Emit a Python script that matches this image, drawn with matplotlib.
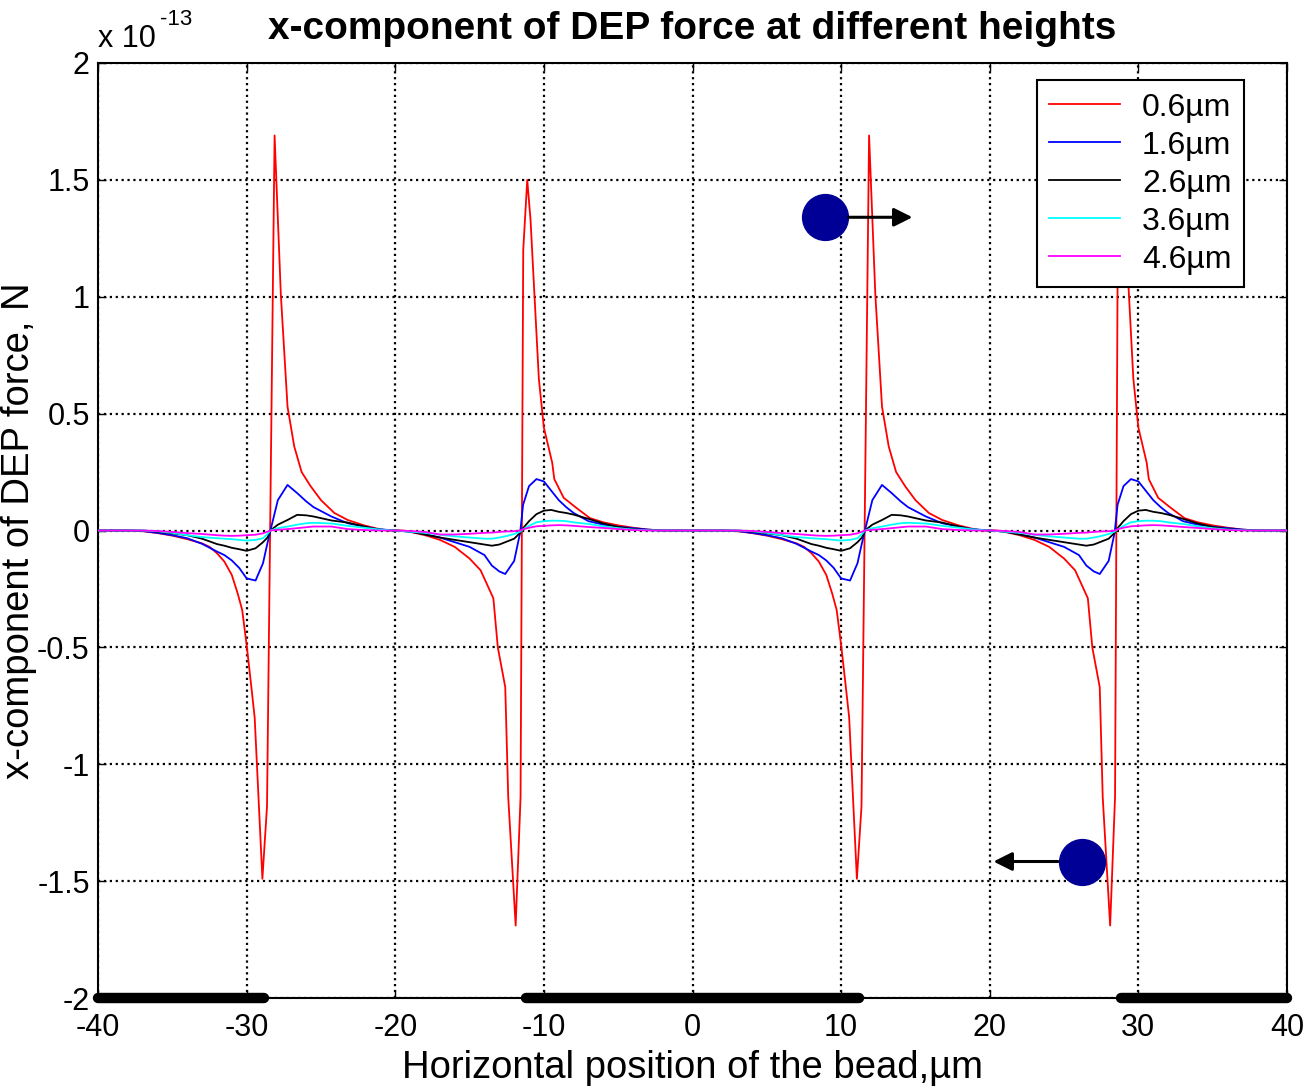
import numpy as np
import matplotlib
matplotlib.use("Agg")
import matplotlib.pyplot as plt

plt.rcParams['font.family'] = ['Liberation Sans', 'DejaVu Sans']
plt.rcParams['mathtext.default'] = 'regular'
plt.rcParams['axes.unicode_minus'] = False

# ---- datos (fuerza en unidades de 1e-13 N) ----
x_rojo = [-40, -38, -37, -36, -35, -34, -33, -32.5, -32, -31.5,
          -31, -30.6, -30.3, -30.0, -29.7, -29.46, -28.94, -28.63, -28.12, -27.7,
          -27.25, -26.8, -26.3, -25.7, -25.0, -24.1, -23.2, -22.1, -21.2, -20.5,
          -19.5, -19, -18, -17, -16, -15, -14.26, -13.9, -13.4, -13.1,
          -12.6, -12.4, -11.9, -11.57, -11.39, -11.12, -10.9, -10.34, -10.0, -9.44,
          -9.3, -8.67, -7.8, -6.9, -6, -5, -4, -3, -2, 0,
          2, 3, 4, 5, 6, 7, 7.5, 8, 8.5,
          9, 9.4, 9.7, 10.0, 10.3, 10.54, 11.06, 11.37, 11.88, 12.3,
          12.75, 13.2, 13.7, 14.3, 15.0, 15.9, 16.8, 17.9, 18.8, 19.5,
          20.5, 21, 22, 23, 24, 25, 25.74, 26.1, 26.6, 26.9,
          27.4, 27.6, 28.1, 28.43, 28.61, 28.88, 29.1, 29.66, 30.0, 30.56,
          30.7, 31.33, 32.2, 33.1, 34, 35, 36, 37, 38, 40]
f_06 = [0, 0, -0.003, -0.011, -0.022, -0.037, -0.055, -0.07, -0.097, -0.133,
        -0.19, -0.27, -0.34, -0.49, -0.66, -0.80, -1.49, -1.18, 1.69, 1.01,
        0.53, 0.36, 0.25, 0.19, 0.13, 0.075, 0.045, 0.022, 0.008, 0,
        0, -0.006, -0.02, -0.04, -0.07, -0.12, -0.17, -0.22, -0.29, -0.50,
        -0.67, -1.14, -1.69, -1.14, 1.20, 1.50, 1.33, 0.65, 0.44, 0.29,
        0.22, 0.14, 0.096, 0.053, 0.035, 0.022, 0.012, 0.004, 0, 0,
        0, -0.003, -0.011, -0.022, -0.037, -0.055, -0.07, -0.097, -0.133,
        -0.19, -0.27, -0.34, -0.49, -0.66, -0.80, -1.49, -1.18, 1.69, 1.01,
        0.53, 0.36, 0.25, 0.19, 0.13, 0.075, 0.045, 0.022, 0.008, 0,
        0, -0.006, -0.02, -0.04, -0.07, -0.12, -0.17, -0.22, -0.29, -0.50,
        -0.67, -1.14, -1.69, -1.14, 1.20, 1.50, 1.33, 0.65, 0.44, 0.29,
        0.22, 0.14, 0.096, 0.053, 0.035, 0.022, 0.012, 0.004, 0, 0]

x_pos = [-40, -38, -37, -36, -35, -34, -33, -32, -31.5, -31,
         -30.5, -30, -29.4, -28.9, -28.6, -28.4, -27.9, -27.25, -26.6, -26,
         -25.5, -24.3, -23.2, -22.1, -21.2, -20,
         -19, -18, -17, -16, -15, -14, -13.5, -13, -12.6, -12,
         -11.6, -11.4, -11, -10.5, -10, -9.5, -9, -8.5, -8, -7,
         -6, -5, -4, -3, -2, 0,
         2, 3, 4, 5, 6, 7, 8, 8.5, 9,
         9.5, 10, 10.6, 11.1, 11.4, 11.6, 12.1, 12.75, 13.4, 14,
         14.5, 15.7, 16.8, 17.9, 18.8, 20,
         21, 22, 23, 24, 25, 26, 26.5, 27, 27.4, 28,
         28.4, 28.6, 29, 29.5, 30, 30.5, 31, 31.5, 32, 33,
         34, 35, 36, 37, 38, 40]
f_16 = [0, 0, -0.002, -0.01, -0.02, -0.033, -0.057, -0.09, -0.105, -0.128,
        -0.16, -0.205, -0.214, -0.14, -0.054, 0.0, 0.13, 0.195, 0.16, 0.125,
        0.10, 0.06, 0.031, 0.017, 0.006, 0,
        -0.005, -0.016, -0.03, -0.05, -0.07, -0.105, -0.15, -0.175, -0.186, -0.13,
        -0.01, 0.11, 0.19, 0.22, 0.21, 0.17, 0.13, 0.10, 0.075, 0.04,
        0.025, 0.016, 0.01, 0.004, 0, 0,
        0, -0.002, -0.01, -0.02, -0.033, -0.057, -0.09, -0.105, -0.128,
        -0.16, -0.205, -0.214, -0.14, -0.054, 0.0, 0.13, 0.195, 0.16, 0.125,
        0.10, 0.06, 0.031, 0.017, 0.006, 0,
        -0.005, -0.016, -0.03, -0.05, -0.07, -0.105, -0.15, -0.175, -0.186, -0.13,
        -0.01, 0.11, 0.19, 0.22, 0.21, 0.17, 0.13, 0.10, 0.075, 0.04,
        0.025, 0.016, 0.01, 0.004, 0, 0]
f_26 = [0, 0, 0, -0.005, -0.012, -0.02, -0.035, -0.058, -0.065, -0.074,
        -0.08, -0.087, -0.076, -0.05, -0.03, 0, 0.025, 0.045, 0.067, 0.065,
        0.06, 0.043, 0.034, 0.017, 0.004, 0,
        -0.004, -0.017, -0.03, -0.04, -0.05, -0.06, -0.065, -0.06, -0.05, -0.035,
        -0.01, 0.01, 0.04, 0.07, 0.085, 0.088, 0.08, 0.075, 0.068, 0.05,
        0.03, 0.015, 0.006, 0.002, 0, 0,
        0, 0, -0.005, -0.012, -0.02, -0.035, -0.058, -0.065, -0.074,
        -0.08, -0.087, -0.076, -0.05, -0.03, 0, 0.025, 0.045, 0.067, 0.065,
        0.06, 0.043, 0.034, 0.017, 0.004, 0,
        -0.004, -0.017, -0.03, -0.04, -0.05, -0.06, -0.065, -0.06, -0.05, -0.035,
        -0.01, 0.01, 0.04, 0.07, 0.085, 0.088, 0.08, 0.075, 0.068, 0.05,
        0.03, 0.015, 0.006, 0.002, 0, 0]
f_36 = [0, 0, 0, -0.003, -0.01, -0.02, -0.028, -0.033, -0.035, -0.037,
        -0.04, -0.043, -0.04, -0.033, -0.015, 0, 0.01, 0.017, 0.025, 0.031,
        0.033, 0.03, 0.02, 0.012, 0.005, 0,
        -0.005, -0.01, -0.018, -0.025, -0.03, -0.035, -0.035, -0.03, -0.025, -0.015,
        -0.005, 0.005, 0.02, 0.035, 0.04, 0.042, 0.042, 0.04, 0.035, 0.028,
        0.018, 0.01, 0.004, 0.001, 0, 0,
        0, 0, -0.003, -0.01, -0.02, -0.028, -0.033, -0.035, -0.037,
        -0.04, -0.043, -0.04, -0.033, -0.015, 0, 0.01, 0.017, 0.025, 0.031,
        0.033, 0.03, 0.02, 0.012, 0.005, 0,
        -0.005, -0.01, -0.018, -0.025, -0.03, -0.035, -0.035, -0.03, -0.025, -0.015,
        -0.005, 0.005, 0.02, 0.035, 0.04, 0.042, 0.042, 0.04, 0.035, 0.028,
        0.018, 0.01, 0.004, 0.001, 0, 0]
f_46 = [0, 0, 0, -0.002, -0.006, -0.011, -0.015, -0.02, -0.022, -0.023,
        -0.022, -0.02, -0.018, -0.012, -0.005, 0, 0.003, 0.006, 0.01, 0.014,
        0.017, 0.017, 0.006, 0.002, 0, 0,
        -0.002, -0.006, -0.017, -0.017, -0.014, -0.01, -0.009, -0.006, -0.004, -0.003,
        0, 0.005, 0.012, 0.018, 0.02, 0.022, 0.023, 0.022, 0.02, 0.015,
        0.011, 0.006, 0.002, 0, 0, 0,
        0, 0, -0.002, -0.006, -0.011, -0.015, -0.02, -0.022, -0.023,
        -0.022, -0.02, -0.018, -0.012, -0.005, 0, 0.003, 0.006, 0.01, 0.014,
        0.017, 0.017, 0.006, 0.002, 0, 0,
        -0.002, -0.006, -0.017, -0.017, -0.014, -0.01, -0.009, -0.006, -0.004, -0.003,
        0, 0.005, 0.012, 0.018, 0.02, 0.022, 0.023, 0.022, 0.02, 0.015,
        0.011, 0.006, 0.002, 0, 0, 0]

etiquetas = ['0.6\u00b5m', '1.6\u00b5m', '2.6\u00b5m', '3.6\u00b5m', '4.6\u00b5m']
colores = ['red', 'blue', 'black', 'cyan', 'magenta']

# electrodos en el fondo
electrodo_ini = [-40, -11.2, 28.8]
electrodo_fin = [-28.8, 11.2, 40]

# esferas y flechas de direccion
esfera_x = [8.94, 26.2]
esfera_y = [1.34, -1.416]
flecha_ini = [10.5, 24.6]
flecha_fin = [14.8, 20.25]

x_ticks = [-40, -30, -20, -10, 0, 10, 20, 30, 40]
y_ticks = [-2, -1.5, -1, -0.5, 0, 0.5, 1, 1.5, 2]
y_ticklabels = ['-2', '-1.5', '-1', '-0.5', '0', '0.5', '1', '1.5', '2']

fig = plt.figure(figsize=(13.07, 10.88), dpi=100)
ax = fig.add_axes([0.075, 0.0827, 0.9097, 0.8594])

series = [(x_rojo, f_06), (x_pos, f_16), (x_pos, f_26), (x_pos, f_36), (x_pos, f_46)]
for (xs, ys), color, label in zip(series, colores, etiquetas):
    ax.plot(xs, ys, color=color, lw=1.3, label=label, zorder=3)

for x0, x1 in zip(electrodo_ini, electrodo_fin):
    ax.plot([x0, x1], [-2, -2], color='black', lw=7.5, solid_capstyle='round',
            clip_on=False, zorder=5)

ax.plot(esfera_x, esfera_y, 'o', ms=33, color='#000096', zorder=4)
for x0, x1, y in zip(flecha_ini, flecha_fin, esfera_y):
    ax.annotate('', xy=(x1, y), xytext=(x0, y),
                arrowprops=dict(arrowstyle='-|>', color='black', lw=2.2,
                                mutation_scale=28, shrinkA=0, shrinkB=0),
                zorder=4)

ax.set_xlim(-40, 40)
ax.set_ylim(-2, 2)
ax.set_xticks(x_ticks)
ax.set_yticks(y_ticks)
ax.set_yticklabels(y_ticklabels)
ax.tick_params(direction='in', length=6, width=1, labelsize=22, pad=6,
               top=True, right=True)
ax.tick_params(axis='x', pad=11)
ax.grid(True, color='black', linestyle=':', linewidth=1.6)
for s in ax.spines.values():
    s.set_linewidth(1.5)

ax.set_title('x-component of DEP force at different heights', fontsize=28,
             fontweight='bold', pad=17)
ax.set_xlabel('Horizontal position of the bead,\u00b5m', fontsize=27.5, labelpad=5)
ax.set_ylabel('x-component of DEP force, N', fontsize=27.5, labelpad=0)
ax.text(0.0, 1.01, 'x 10', transform=ax.transAxes, fontsize=22,
        ha='left', va='bottom')
ax.text(0.052, 1.035, '-13', transform=ax.transAxes, fontsize=16,
        ha='left', va='bottom')

leg = ax.legend(loc='upper right', bbox_to_anchor=(0.964, 0.982), fontsize=23,
                fancybox=False, edgecolor='black', framealpha=1,
                handlelength=2.2, handletextpad=0.7, labelspacing=0.25,
                borderpad=0.4, borderaxespad=0)
leg.get_frame().set_linewidth(1.5)
leg.set_zorder(10)

fig.savefig('out.png', dpi=100)
